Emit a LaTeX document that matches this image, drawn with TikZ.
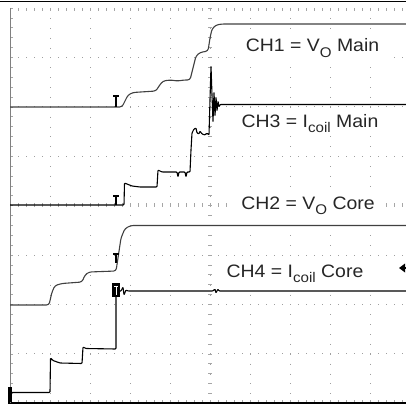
\documentclass[tikz,border=0pt]{standalone}
\usepackage{fontspec}
\newfontfamily\scopefont{Liberation Sans}
\newcommand\chsub[1]{\raisebox{-0.28em}{\fontsize{14}{14}\selectfont #1}}
\newcommand\chtext[1]{\scalebox{1.08}[1]{#1}}

\begin{document}
\begin{tikzpicture}[x=1pt,y=-1pt]
   \tikzstyle{hgrid}=[gray!75, line width=0.9pt, dash pattern=on 0.9pt off 7.1pt]
   \tikzstyle{vgrid}=[gray!75, line width=0.9pt, dash pattern=on 0.9pt off 8.98pt]
   \tikzstyle{tick}=[gray!70, line width=0.6pt]
   \tikzstyle{ch label}=[fill=white, inner xsep=11pt, inner ysep=4pt, anchor=base, text=black!85, font=\scopefont\fontsize{18}{20}\selectfont]
   \tikzstyle{trace}=[line width=1.1pt, rounded corners=2.5pt, line join=round]
   \tikzstyle{marker}=[line width=1.1pt, black]

\useasboundingbox (0,0) rectangle (406,404);

% graticule
\foreach \i in {1,...,9}
    \draw[vgrid] (10+40*\i,8) -- (10+40*\i,403);
\foreach \j in {1,...,7}
    \draw[hgrid] (10,8+49.4*\j) -- (406,8+49.4*\j);
\foreach \k in {0,...,49} {
    \draw[tick] (10+8*\k,203) -- ++(0,4);
    \draw[tick] (10+8*\k,8) -- ++(0,3);
    \draw[tick] (10+8*\k,400) -- ++(0,3);
}
\foreach \k in {0,...,40} {
    \draw[tick] (208,8+9.88*\k) -- ++(4,0);
    \draw[tick] (10,8+9.88*\k) -- ++(3,0);
}
\draw[line width=1.5pt] (0,1.5) -- (406,1.5);
\draw[line width=1.2pt] (8,403) -- (406,403);
\draw[gray, line width=1pt] (10,8) -- (10,403);

% channel labels
\node[ch label] (ch1lbl) at (312.5,52) {\chtext{CH1 = V\chsub{O} Main}};
\node[ch label] (ch3lbl) at (310,127) {\chtext{CH3 = I\chsub{coil} Main}};
\node[ch label] (ch2lbl) at (308,209.5) {\chtext{CH2 = V\chsub{O} Core}};
\node[ch label] (ch4lbl) at (295,277.5) {\chtext{CH4 = I\chsub{coil} Core}};

% CH1
\draw[trace, black!75] (10,107) -- (122,107) -- (125,101) -- (128,95) -- (133,92.5) -- (156,91)
    -- (159,86) -- (163,81) -- (170,80) -- (178,81) -- (184,80) -- (190,80) -- (193,68)
    -- (196,56) -- (200,52.5) -- (208,51) -- (210,38) -- (212,29) -- (216,25) -- (222,24) -- (406,24);
% CH3
\draw[trace, black, rounded corners=0.8pt] (10,205) -- (124,205) -- (124.5,183) -- (127,184) -- (132,186)
    -- (140,187) -- (157,187) -- (158,170) -- (162,172) -- (177,172) -- (178,177) -- (179,172)
    -- (185,172) -- (186,177) -- (187,172) -- (190,172) -- (191,150) -- (192,133) -- (194,129)
    -- (196,128) -- (197,133) -- (199,134) -- (200,131) -- (202,134) -- (205,135) -- (207,133)
    -- (209,135) -- (210,100) -- (211,66) -- (212,95) -- (213,122) -- (214,92) -- (215,116)
    -- (216,97) -- (217,111) -- (218,101) -- (219,107) -- (220,104.5) -- (406,104.5);
% CH2
\draw[trace, black!75] (10,305) -- (49,305) -- (52,292) -- (55,285.5) -- (62,283.5) -- (82,282)
    -- (85,275) -- (89,272) -- (116,271) -- (118,258) -- (121,238) -- (125,228.5) -- (131,225.5)
    -- (406,225.5);
% CH4
\draw[trace, black, rounded corners=0.8pt] (10,392.5) -- (50,392.5) -- (50.5,358) -- (53,360.5)
    -- (60,363) -- (82,363.5) -- (83,347) -- (86,348.5) -- (116,349) -- (116,292) -- (121,291)
    -- (123,287) -- (124,295) -- (126,290) -- (128,291) -- (213,291) -- (215,289) -- (216,293)
    -- (218,289) -- (219,291) -- (406,291);

% trigger and ground markers
\draw[marker] (113,96) -- (119,96) (116,96) -- (116,107);
\draw[marker] (113,196) -- (119,196) (116,196) -- (116,205);
\draw[marker] (113,254) -- (119,254) (116,254) -- (116,263);
\fill[black] (112,283) rectangle (120,297);
\draw[white, line width=0.8pt] (114,286) -- (118,286) (116,286) -- (116,295);
\fill[black] (8,387) rectangle (11.5,402);
\fill[black] (399,268) -- (405,263.5) -- (405,272.5) -- cycle;
\draw[marker] (404,268) -- (406,268);

\end{tikzpicture}
\end{document}
